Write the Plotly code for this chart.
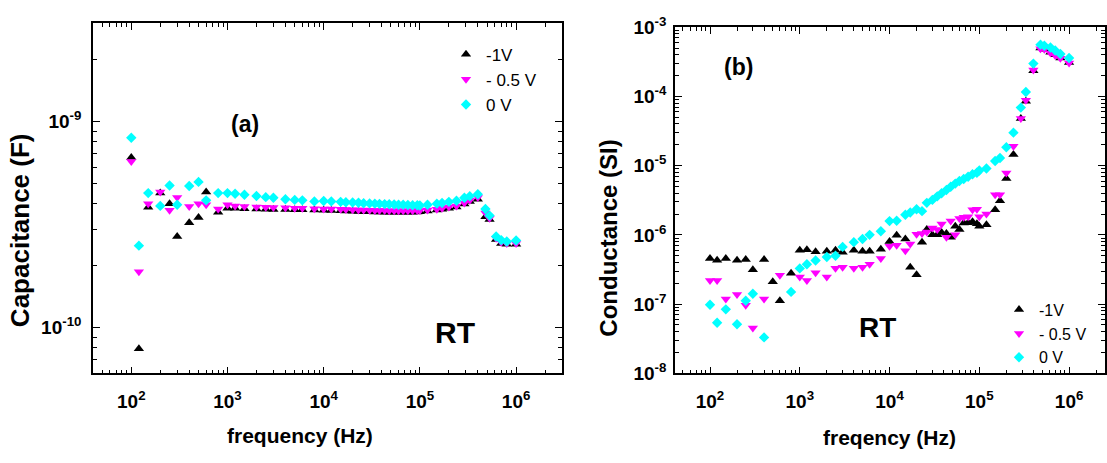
import math
import plotly.graph_objects as go

W, H = 1107, 463

# ---------------- data ----------------
freq = [100, 120, 150, 200, 250, 300, 400, 500, 600, 800,
        1000, 1200, 1500, 2000, 2500, 3000, 4000, 5000, 6000, 8000,
        10000, 12000, 15000, 17000, 20000, 23000, 26000, 30000, 34000, 38000,
        43000, 48000, 54000, 60000, 67000, 75000, 84000, 94000,
        100000, 120000, 150000, 170000, 200000, 240000, 290000, 330000,
        400000, 480000, 530000, 620000, 700000, 800000, 1000000]

# (a) capacitance (F)
cap_m1V = [6.70e-10, 7.90e-11, 3.84e-10, 4.50e-10, 4.00e-10, 2.77e-10, 3.23e-10, 3.43e-10, 4.55e-10, 3.63e-10,
           3.80e-10, 3.80e-10, 3.78e-10, 3.77e-10, 3.76e-10, 3.75e-10, 3.75e-10, 3.74e-10, 3.74e-10, 3.72e-10,
           3.71e-10, 3.70e-10, 3.69e-10, 3.68e-10, 3.67e-10, 3.66e-10, 3.65e-10, 3.65e-10, 3.64e-10, 3.64e-10,
           3.63e-10, 3.63e-10, 3.63e-10, 3.63e-10, 3.63e-10, 3.63e-10, 3.63e-10, 3.64e-10,
           3.65e-10, 3.68e-10, 3.72e-10, 3.76e-10, 3.80e-10, 3.85e-10, 3.98e-10, 4.10e-10,
           4.20e-10, 3.45e-10, 3.35e-10, 2.68e-10, 2.56e-10, 2.54e-10, 2.54e-10]
cap_m05V = [6.40e-10, 1.87e-10, 4.00e-10, 4.55e-10, 3.71e-10, 4.28e-10, 3.87e-10, 4.00e-10, 3.95e-10, 3.77e-10,
            3.95e-10, 3.90e-10, 3.87e-10, 3.85e-10, 3.84e-10, 3.83e-10, 3.82e-10, 3.80e-10, 3.80e-10, 3.78e-10,
            3.77e-10, 3.77e-10, 3.76e-10, 3.75e-10, 3.74e-10, 3.73e-10, 3.72e-10, 3.71e-10, 3.70e-10, 3.70e-10,
            3.70e-10, 3.69e-10, 3.69e-10, 3.69e-10, 3.69e-10, 3.69e-10, 3.69e-10, 3.70e-10,
            3.70e-10, 3.72e-10, 3.76e-10, 3.80e-10, 3.85e-10, 3.90e-10, 4.03e-10, 4.15e-10,
            4.28e-10, 3.60e-10, 3.40e-10, 2.72e-10, 2.60e-10, 2.56e-10, 2.56e-10]
cap_0V = [8.35e-10, 2.50e-10, 4.50e-10, 3.90e-10, 4.90e-10, 3.95e-10, 4.87e-10, 5.10e-10, 4.15e-10, 4.50e-10,
          4.50e-10, 4.47e-10, 4.42e-10, 4.36e-10, 4.30e-10, 4.27e-10, 4.20e-10, 4.17e-10, 4.15e-10, 4.10e-10,
          4.12e-10, 4.10e-10, 4.08e-10, 4.06e-10, 4.05e-10, 4.04e-10, 4.02e-10, 4.01e-10, 4.00e-10, 3.99e-10,
          3.98e-10, 3.97e-10, 3.96e-10, 3.95e-10, 3.95e-10, 3.94e-10, 3.93e-10, 3.93e-10,
          3.92e-10, 3.95e-10, 4.00e-10, 4.03e-10, 4.08e-10, 4.13e-10, 4.27e-10, 4.35e-10,
          4.44e-10, 3.77e-10, 3.50e-10, 2.77e-10, 2.66e-10, 2.62e-10, 2.65e-10]

# (b) conductance (S)
g_m1V = [4.55e-7, 4.30e-7, 4.55e-7, 4.30e-7, 4.40e-7, 3.14e-7, 4.40e-7, 2.11e-7, 1.12e-7, 2.80e-7,
         6.0e-7, 6.1e-7, 5.7e-7, 5.8e-7, 6.0e-7, 5.6e-7, 6.0e-7, 5.8e-7, 5.8e-7, 6.2e-7,
         8.0e-7, 9.9e-7, 8.7e-7, 3.4e-7, 2.66e-7, 7.85e-7, 1.2e-6, 1.0e-6, 1.0e-6, 1.08e-6,
         1.05e-6, 9.2e-7, 1.33e-6, 1.2e-6, 1.48e-6, 1.5e-6, 1.55e-6, 1.45e-6,
         1.33e-6, 1.4e-6, 2.3e-6, 3.1e-6, 6.5e-6, 1.45e-5, 4.8e-5, 8.5e-5,
         2.35e-4, 5.0e-4, 4.8e-4, 4.35e-4, 4.0e-4, 3.6e-4, 3.1e-4]
g_m05V = [2.2e-7, 2.2e-7, 1.18e-7, 1.38e-7, 9.6e-8, 4.5e-8, 1.18e-7, None, 2.6e-7, None,
          2.47e-7, 2.2e-7, 2.83e-7, 2.47e-7, 3.3e-7, 3.4e-7, 3.3e-7, 3.4e-7, 3.76e-7, 4.55e-7,
          6.85e-7, 7.1e-7, 5.9e-7, 7.4e-7, 1.02e-6, 1.05e-6, 1.1e-6, 1.26e-6, 1.2e-6, 1.43e-6,
          9.2e-7, 1.58e-6, 1.0e-6, 1.73e-6, 1.8e-6, 1.83e-6, 2.3e-6, 2.35e-6,
          1.83e-6, 2.0e-6, 3.8e-6, 3.8e-6, 7.8e-6, 1.9e-5, 4.8e-5, 8.8e-5,
          2.4e-4, 4.9e-4, 4.8e-4, 4.25e-4, 3.9e-4, 3.55e-4, 3.05e-4]
g_0V = [9.8e-8, 5.37e-8, 8.4e-8, 5.1e-8, 1.12e-7, 1.41e-7, 3.3e-8, None, None, 1.5e-7,
        3.28e-7, 3.76e-7, 4.27e-7, 4.8e-7, 5.0e-7, 6.7e-7, 7.85e-7, 8.7e-7, 1.0e-6, 1.13e-6,
        1.58e-6, 1.6e-6, 1.95e-6, 2.1e-6, 2.35e-6, 2.2e-6, 2.9e-6, 3.2e-6, 3.6e-6, 4.0e-6,
        4.45e-6, 4.95e-6, 5.5e-6, 6.0e-6, 6.4e-6, 6.9e-6, 7.5e-6, 7.9e-6,
        8.5e-6, 9.1e-6, 1.17e-5, 1.29e-5, 1.84e-5, 3.0e-5, 6.9e-5, 1.16e-4,
        2.98e-4, 5.6e-4, 5.4e-4, 5.1e-4, 4.6e-4, 4.1e-4, 3.6e-4]

series_names = ["-1V", "- 0.5 V", "0 V"]
x_tick_vals = [1e2, 1e3, 1e4, 1e5, 1e6]
x_tick_text = ["10<sup>2</sup>", "10<sup>3</sup>", "10<sup>4</sup>", "10<sup>5</sup>", "10<sup>6</sup>"]
ya_tick_vals = [1e-10, 1e-9]
ya_tick_text = ["10<sup>-10</sup>", "10<sup>-9</sup>"]
yb_tick_vals = [1e-8, 1e-7, 1e-6, 1e-5, 1e-4, 1e-3]
yb_tick_text = ["10<sup>-8</sup>", "10<sup>-7</sup>", "10<sup>-6</sup>", "10<sup>-5</sup>",
                "10<sup>-4</sup>", "10<sup>-3</sup>"]

# ---------------- style ----------------
FONT = "Liberation Sans, Arial, sans-serif"
styles = [dict(symbol="triangle-up", color="#000000", size=9),
          dict(symbol="triangle-down", color="#FF00FF", size=9),
          dict(symbol="diamond", color="#00FFFF", size=8)]


def minors(lo_exp, hi_exp):
    return [m * 10.0 ** e for e in range(lo_exp, hi_exp) for m in range(2, 10)]


fig = go.Figure()
for vals, name, st in zip([cap_m1V, cap_m05V, cap_0V], series_names, styles):
    fig.add_trace(go.Scatter(x=freq, y=vals, mode="markers", name=name,
                             marker=dict(symbol=st["symbol"], color=st["color"], size=st["size"],
                                         line=dict(width=0)),
                             xaxis="x", yaxis="y", legend="legend"))
for vals, name, st in zip([g_m1V, g_m05V, g_0V], series_names, styles):
    fig.add_trace(go.Scatter(x=freq, y=vals, mode="markers", name=name,
                             marker=dict(symbol=st["symbol"], color=st["color"], size=st["size"],
                                         line=dict(width=0)),
                             xaxis="x2", yaxis="y2", legend="legend2"))

tickfont = dict(family=FONT, size=19, color="black", weight="bold")
common = dict(type="log", showline=True, linecolor="black", linewidth=1.5, mirror="ticks",
              ticks="inside", ticklen=7, tickwidth=1.3, tickcolor="black",
              showgrid=False, zeroline=False, tickmode="array", tickfont=tickfont)
minor = lambda lo, hi: dict(ticks="inside", ticklen=4, tickwidth=1, tickcolor="black",
                            tickmode="array", tickvals=minors(lo, hi), showgrid=False)

yb0, ya1, yb1 = 1 - 380 / H, 1 - 11 / H, 1 - 15 / H

fig.update_layout(
    width=W, height=H, margin=dict(l=0, r=0, t=0, b=0, pad=0),
    paper_bgcolor="white", plot_bgcolor="white",
    xaxis=dict(common, domain=[93 / W, 562 / W], anchor="y",
               range=[math.log10(40), math.log10(3e6)],
               tickvals=x_tick_vals, ticktext=x_tick_text, minor=minor(1, 7),
               ticklabelstandoff=10),
    yaxis=dict(common, domain=[yb0, ya1], anchor="x",
               range=[math.log10(6e-11), math.log10(3e-9)],
               tickvals=ya_tick_vals, ticktext=ya_tick_text, minor=minor(-11, -8),
               ticklabelstandoff=6),
    xaxis2=dict(common, domain=[675 / W, 1105 / W], anchor="y2",
                range=[1.61, 6.40],
                tickvals=x_tick_vals, ticktext=x_tick_text, minor=minor(1, 7),
                ticklabelstandoff=10),
    yaxis2=dict(common, domain=[yb0, yb1], anchor="x2",
                range=[-8, -3],
                tickvals=yb_tick_vals, ticktext=yb_tick_text, minor=minor(-8, -3),
                ticklabelstandoff=3),
    legend=dict(x=446 / W, y=1 - 25 / H, xanchor="left", yanchor="top",
                bgcolor="rgba(0,0,0,0)", font=dict(family=FONT, size=17, color="black"),
                tracegroupgap=0, itemsizing="trace", itemwidth=30),
    legend2=dict(x=999 / W, y=1 - 295 / H, xanchor="left", yanchor="top",
                 bgcolor="rgba(0,0,0,0)", font=dict(family=FONT, size=16, color="black"),
                 tracegroupgap=0, itemsizing="trace", itemwidth=30),
)

def ann(text, x, y, size, angle=0):
    fig.add_annotation(text=text, x=x / W, y=1 - y / H, xref="paper", yref="paper",
                       xanchor="center", yanchor="middle", showarrow=False, textangle=angle,
                       font=dict(family=FONT, size=size, color="black", weight="bold"))

ann("(a)", 245, 117, 23)
ann("RT", 455, 337, 30)
ann("(b)", 738, 57, 23)
ann("RT", 878, 332, 28)
ann("Capacitance (F)", 20, 229, 26, -90)
ann("Conductance (SI)", 609, 238, 24, -90)
ann("frequency (Hz)", 300, 446, 21)
ann("freqency (Hz)", 889, 448, 21)

fig.write_html("out.html")
